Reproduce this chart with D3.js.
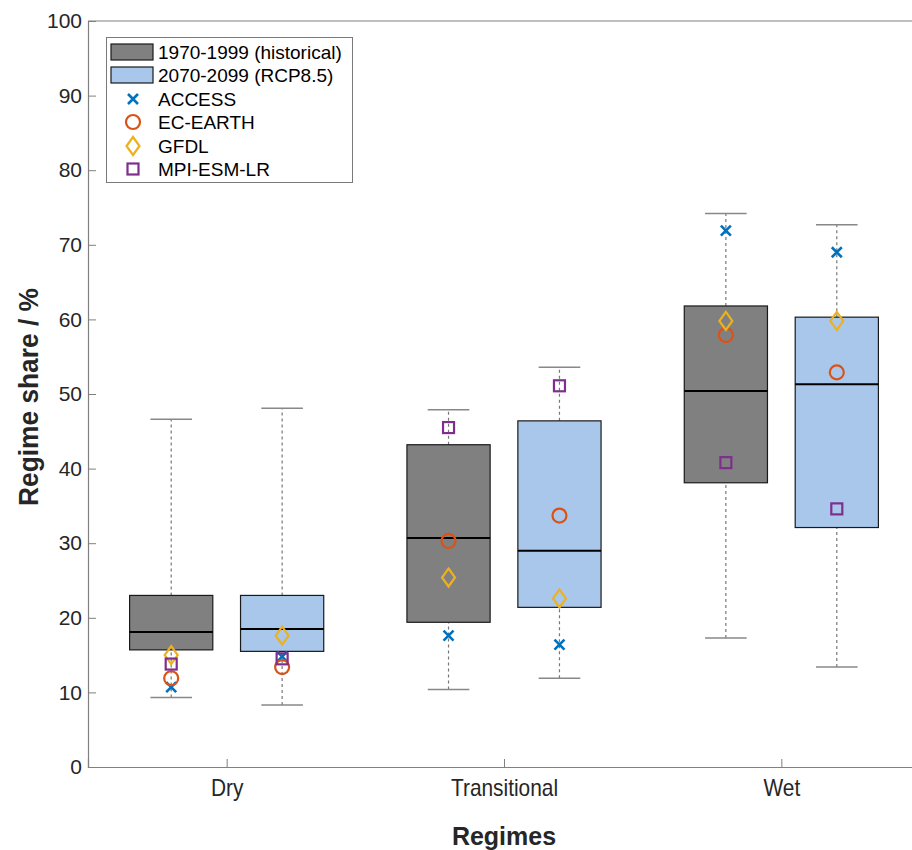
<!DOCTYPE html>
<html>
<head>
<meta charset="utf-8">
<script src="https://cdn.jsdelivr.net/npm/d3@7"></script>
<style>
  body { margin: 0; background: #fff; }
  svg { display: block; font-family: "Liberation Sans", Arial, sans-serif; }
</style>
</head>
<body>
<svg id="chart" width="912" height="850"></svg>
<script>
// categories and y ticks
const regimes = ["Dry", "Transitional", "Wet"];
const yTicks = [0, 10, 20, 30, 40, 50, 60, 70, 80, 90, 100];

// box stats [whiskerLow, q1, median, q3, whiskerHigh] per regime
const histStats = [
  [9.3, 15.7, 18.1, 23.0, 46.6],
  [10.4, 19.4, 30.7, 43.2, 47.9],
  [17.3, 38.1, 50.4, 61.8, 74.2]
];
const rcpStats = [
  [8.3, 15.5, 18.5, 23.0, 48.1],
  [11.9, 21.4, 29.0, 46.4, 53.6],
  [13.4, 32.1, 51.3, 60.3, 72.7]
];

// single model values per regime
const accessHist = [10.7, 17.6, 71.9];
const accessRcp = [14.8, 16.4, 69.0];
const ecHist = [11.9, 30.3, 57.9];
const ecRcp = [13.4, 33.7, 52.9];
const gfdlHist = [15.0, 25.4, 59.8];
const gfdlRcp = [17.6, 22.6, 59.8];
const mpiHist = [13.8, 45.5, 40.8];
const mpiRcp = [14.5, 51.1, 34.6];

const periods = [
  {name: "1970-1999 (historical)", stats: histStats, fill: "#808080", offset: -0.2},
  {name: "2070-2099 (RCP8.5)", stats: rcpStats, fill: "#a9c7ea", offset: 0.2}
];
const models = [
  {name: "ACCESS", color: "#0072BD", shape: "x", hist: accessHist, rcp: accessRcp},
  {name: "EC-EARTH", color: "#D95319", shape: "o", hist: ecHist, rcp: ecRcp},
  {name: "GFDL", color: "#EDB120", shape: "d", hist: gfdlHist, rcp: gfdlRcp},
  {name: "MPI-ESM-LR", color: "#7E2F8E", shape: "s", hist: mpiHist, rcp: mpiRcp}
];

const svg = d3.select("#chart");
const x = d3.scaleLinear().domain([0.5, 3.5]).range([88, 920]);
const y = d3.scaleLinear().domain([0, 100]).range([767, 21]);
const axisCol = "#808080";
const textCol = "#262626";
const boxW = x(0.3) - x(0);

// axes box
svg.append("line").attr("x1", x(0.5)).attr("x2", x(3.5)).attr("y1", y(100)).attr("y2", y(100))
  .attr("stroke", axisCol).attr("stroke-width", 1.2);
svg.append("line").attr("x1", x(3.5)).attr("x2", x(3.5)).attr("y1", y(0)).attr("y2", y(100))
  .attr("stroke", axisCol).attr("stroke-width", 1.2);

const yAxis = svg.append("g").attr("transform", `translate(${x(0.5)},0)`)
  .call(d3.axisLeft(y).tickValues(yTicks).tickSize(-8).tickPadding(6).tickFormat(d3.format("d")));
yAxis.select(".domain").attr("stroke", axisCol).attr("stroke-width", 1.2);
yAxis.selectAll(".tick line").attr("stroke", axisCol);
yAxis.selectAll(".tick text").attr("fill", textCol).style("font-size", "21px");

// right side ticks
svg.append("g").attr("transform", `translate(${x(3.5)},0)`)
  .call(d3.axisRight(y).tickValues(yTicks).tickSize(-8).tickFormat(""))
  .call(g => g.select(".domain").remove())
  .selectAll(".tick line").attr("stroke", axisCol);

const xAxis = svg.append("g").attr("transform", `translate(0,${y(0)})`)
  .call(d3.axisBottom(x).tickValues([1, 2, 3]).tickSize(-8).tickPadding(12)
    .tickFormat((d, i) => regimes[i]));
xAxis.select(".domain").attr("stroke", axisCol).attr("stroke-width", 1.2);
xAxis.selectAll(".tick line").attr("stroke", axisCol);
xAxis.selectAll(".tick text").attr("fill", textCol).style("font-size", "24px")
  .attr("transform", "scale(0.87,1)");

// axis labels
svg.append("text").attr("x", 504).attr("y", 845).attr("text-anchor", "middle")
  .attr("fill", textCol).style("font-size", "25px").style("font-weight", "bold")
  .text("Regimes");
svg.append("text").attr("transform", "translate(38,397) rotate(-90) scale(0.94,1)").attr("text-anchor", "middle")
  .attr("fill", textCol).style("font-size", "28px").style("font-weight", "bold")
  .text("Regime share / %");

// boxes
periods.forEach(p => {
  p.stats.forEach((s, i) => {
    const cx = x(i + 1 + p.offset);
    const g = svg.append("g");
    // whiskers
    g.append("line").attr("x1", cx).attr("x2", cx).attr("y1", y(s[0])).attr("y2", y(s[1]))
      .attr("stroke", "#777").attr("stroke-dasharray", "3,3").attr("stroke-width", 1.2);
    g.append("line").attr("x1", cx).attr("x2", cx).attr("y1", y(s[3])).attr("y2", y(s[4]))
      .attr("stroke", "#777").attr("stroke-dasharray", "3,3").attr("stroke-width", 1.2);
    [s[0], s[4]].forEach(v => {
      g.append("line").attr("x1", cx - boxW / 4).attr("x2", cx + boxW / 4)
        .attr("y1", y(v)).attr("y2", y(v)).attr("stroke", "#888").attr("stroke-width", 1.5);
    });
    g.append("rect").attr("x", cx - boxW / 2).attr("y", y(s[3]))
      .attr("width", boxW).attr("height", y(s[1]) - y(s[3]))
      .attr("fill", p.fill).attr("stroke", "#1a1a1a").attr("stroke-width", 1.2);
    g.append("line").attr("x1", cx - boxW / 2).attr("x2", cx + boxW / 2)
      .attr("y1", y(s[2])).attr("y2", y(s[2])).attr("stroke", "#000").attr("stroke-width", 2);
  });
});

function drawMarker(g, shape, cx, cy, color) {
  if (shape === "x") {
    g.append("path").attr("d", `M${cx - 5},${cy - 5}L${cx + 5},${cy + 5}M${cx - 5},${cy + 5}L${cx + 5},${cy - 5}`)
      .attr("stroke", color).attr("stroke-width", 2.6).attr("fill", "none");
  } else if (shape === "o") {
    g.append("circle").attr("cx", cx).attr("cy", cy).attr("r", 7)
      .attr("stroke", color).attr("stroke-width", 2.2).attr("fill", "none");
  } else if (shape === "d") {
    g.append("path").attr("d", `M${cx},${cy - 9}L${cx + 6.5},${cy}L${cx},${cy + 9}L${cx - 6.5},${cy}Z`)
      .attr("stroke", color).attr("stroke-width", 2.2).attr("fill", "none");
  } else {
    g.append("rect").attr("x", cx - 5.5).attr("y", cy - 5.5).attr("width", 11).attr("height", 11)
      .attr("stroke", color).attr("stroke-width", 2.2).attr("fill", "none");
  }
}

// model markers
const mk = svg.append("g");
models.forEach(m => {
  m.hist.forEach((v, i) => drawMarker(mk, m.shape, x(i + 1 - 0.2), y(v), m.color));
  m.rcp.forEach((v, i) => drawMarker(mk, m.shape, x(i + 1 + 0.2), y(v), m.color));
});

// legend
const lg = svg.append("g");
lg.append("rect").attr("x", 106.5).attr("y", 37.5).attr("width", 246).attr("height", 145)
  .attr("fill", "#fff").attr("stroke", "#7a7a7a").attr("stroke-width", 1);
const rowY = [52, 75, 99, 122, 146, 169];
periods.forEach((p, i) => {
  lg.append("rect").attr("x", 111).attr("y", rowY[i] - 8).attr("width", 42).attr("height", 16)
    .attr("fill", p.fill).attr("stroke", "#1a1a1a").attr("stroke-width", 1.2);
  lg.append("text").attr("x", 158).attr("y", rowY[i]).attr("dy", "0.35em")
    .attr("fill", "#000").style("font-size", "19px").text(p.name);
});
models.forEach((m, i) => {
  drawMarker(lg, m.shape, 133, rowY[i + 2], m.color);
  lg.append("text").attr("x", 158).attr("y", rowY[i + 2]).attr("dy", "0.35em")
    .attr("fill", "#000").style("font-size", "19px").text(m.name);
});
</script>
</body>
</html>
